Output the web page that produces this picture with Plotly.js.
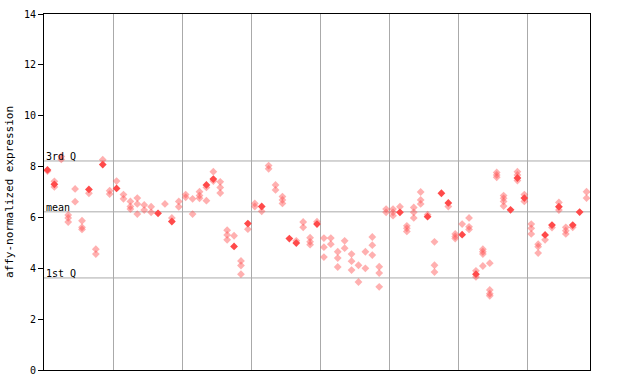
<!DOCTYPE html>
<html>
<head>
<meta charset="utf-8">
<script src="https://cdn.plot.ly/plotly-3.0.1.min.js"></script>
<style>html,body{margin:0;padding:0;background:#fff;}#chart{width:640px;height:384px;}</style>
</head>
<body>
<div id="chart"></div>
<script>
// Replicate (open, dithered) values per sample, index = sample position
const openValues = [
  [7.82], [7.42, 7.2], [8.4, 8.28], [6.1, 5.98, 5.82], [7.12, 6.62],
  [5.87, 5.61, 5.53], [6.95], [4.75, 4.56], [8.27], [7.05, 6.92],
  [7.43], [6.9, 6.73], [6.63, 6.43, 6.33], [6.76, 6.53, 6.13], [6.49, 6.29],
  [6.42, 6.2], [], [6.53], [5.98], [6.63, 6.42],
  [6.9, 6.79], [6.73, 6.13], [7.01, 6.86, 6.75], [7.18, 6.66], [7.8, 7.43],
  [7.4, 7.18, 6.96], [5.5, 5.31, 5.12], [5.28], [4.29, 4.11, 3.77], [5.54],
  [6.55, 6.43], [6.24], [8.04, 7.91], [7.28, 7.08], [6.82, 6.69, 6.55],
  [], [5.08], [5.82, 5.61], [5.2, 5.04, 4.93], [5.83],
  [5.19, 4.83, 4.44], [5.19, 4.95], [4.65, 4.4, 4.05], [5.08, 4.79], [4.56, 4.28, 3.93],
  [4.12, 3.46], [4.65, 4.0], [5.23, 4.91, 4.52], [4.06, 3.81, 3.27], [6.33, 6.2],
  [6.33, 6.2, 6.07], [6.42], [5.67, 5.57, 5.45], [6.39, 6.2, 5.98], [7.0, 6.69, 6.53],
  [6.11], [5.04, 4.12, 3.85], [], [6.43], [5.35, 5.25, 5.17],
  [5.74], [5.98, 5.63, 5.53], [3.9, 3.66], [4.75, 4.65, 4.56, 4.09], [4.2, 3.15, 3.0, 2.92],
  [7.77, 7.67, 7.58], [6.86, 6.75, 6.63, 6.45], [], [7.8, 7.67, 7.45], [6.9, 6.63],
  [5.74, 5.57, 5.35], [4.95, 4.85, 4.6], [5.12], [5.6], [6.59, 6.29],
  [5.61, 5.48, 5.35], [5.61], [], [7.01, 6.76]
];
// Highlighted (solid) value per sample, null when absent
const filledValues = [
  7.87, 7.3, null, null, null, null, 7.1, null, 8.08, null,
  7.14, null, null, null, null, null, 6.16, null, 5.84, null,
  null, null, null, 7.28, 7.51, null, null, 4.86, null, 5.76,
  null, 6.43, null, null, null, 5.17, 4.99, null, null, 5.74,
  null, null, null, null, null, null, null, null, null, null,
  null, 6.2, null, null, null, 6.03, null, 6.95, 6.57, null,
  5.32, null, 3.77, null, null, null, null, 6.3, 7.55, 6.76,
  null, null, 5.31, 5.7, 6.42, null, 5.7, 6.21, null
];
const statLines = [
  {name: "3rd Q", value: 8.22},
  {name: "mean", value: 6.22},
  {name: "1st Q", value: 3.62}
];
const yTickVals = [0, 2, 4, 6, 8, 10, 12, 14];
const groupBoundaries = [9.5, 19.5, 29.5, 39.5, 49.5, 59.5, 69.5];

const ox = [], oy = [];
openValues.forEach((vals, i) => vals.forEach(v => { ox.push(i); oy.push(v); }));
const fx = [], fy = [];
filledValues.forEach((v, i) => { if (v !== null) { fx.push(i); fy.push(v); } });

const mono = "DejaVu Sans Mono, monospace";
const traces = [
  {x: ox, y: oy, type: "scatter", mode: "markers", hoverinfo: "skip",
   marker: {symbol: "diamond", size: 6, color: "rgba(255,80,80,0.45)", line: {width: 0}}},
  {x: fx, y: fy, type: "scatter", mode: "markers", hoverinfo: "skip",
   marker: {symbol: "diamond", size: 6, color: "#ff4a4a", line: {width: 0}}}
];

const shapes = statLines.map(s => ({
  type: "line", xref: "paper", x0: 0, x1: 1, yref: "y", y0: s.value, y1: s.value,
  line: {color: "#aaaaaa", width: 1}, layer: "below"
}));
const annotations = statLines.map(s => ({
  xref: "paper", x: 0, xanchor: "left", yref: "y", y: s.value, yanchor: "bottom",
  text: s.name, showarrow: false, font: {family: mono, size: 10, color: "#000"},
  xshift: 0, yshift: -3
}));

const layout = {
  width: 640, height: 384,
  margin: {l: 44, r: 50, t: 14, b: 14},
  paper_bgcolor: "#fff", plot_bgcolor: "#fff",
  showlegend: false,
  xaxis: {range: [-0.5, 78.5], tickvals: groupBoundaries, showticklabels: false,
          ticks: "", showgrid: true, gridcolor: "#aaaaaa", gridwidth: 1, zeroline: false,
          showline: true, mirror: true, linecolor: "#000", linewidth: 1},
  yaxis: {range: [0, 14], tickvals: yTickVals, ticks: "outside", ticklen: 5, tickcolor: "#000",
          showgrid: false, zeroline: false, showline: true, mirror: true,
          linecolor: "#000", linewidth: 1,
          tickfont: {family: mono, size: 10, color: "#000"},
          title: {text: "affy-normalized expression", font: {family: mono, size: 11, color: "#000"}, standoff: 8}},
  shapes: shapes,
  annotations: annotations
};
Plotly.newPlot("chart", traces, layout, {staticPlot: true, displayModeBar: false});
</script>
</body>
</html>
